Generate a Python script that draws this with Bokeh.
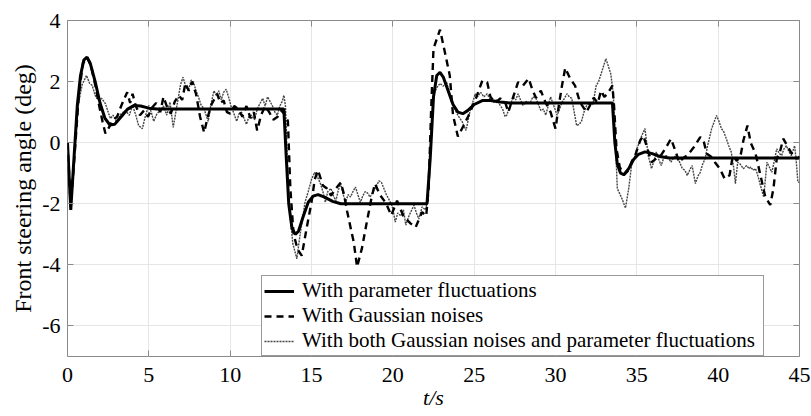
from bokeh.plotting import figure
from bokeh.models import Legend, LegendItem, LinearAxis, FixedTicker, Range1d, CustomJSTickFormatter
from bokeh.embed import file_html
from bokeh.resources import INLINE

x_ticks = [0, 5, 10, 15, 20, 25, 30, 35, 40, 45]
y_ticks = [-6, -4, -2, 0, 2, 4]
y_tick_labels = {-6: "-6", -4: "-4", -2: "-2", 0: "0", 2: "2", 4: "4"}

# With parameter fluctuations (solid)
t_param = [0, 0.2, 0.4, 0.6, 0.8, 1.0, 1.2, 1.4, 1.7, 2.0, 2.3, 2.6, 2.9, 3.3, 3.7, 4.1, 4.5, 5.0, 5.5,
           13.3, 13.45, 13.6, 13.8, 14.0, 14.2, 14.5, 14.8, 15.1, 15.4, 15.8, 16.3, 16.8, 17.5,
           22.1, 22.3, 22.5, 22.7, 22.9, 23.1, 23.4, 23.7, 24.0, 24.3, 24.6, 25.0, 25.5, 26.0, 26.6, 27.2,
           33.5, 33.65, 33.8, 34.0, 34.2, 34.5, 34.8, 35.1, 35.5, 35.9, 36.4, 37.0, 45.0]
y_param = [0, -2.2, -0.5, 1.2, 2.2, 2.7, 2.8, 2.6, 2.0, 1.3, 0.8, 0.58, 0.6, 0.85, 1.1, 1.22, 1.2, 1.13, 1.1,
           1.1, -0.5, -2.0, -2.8, -3.0, -2.9, -2.4, -1.95, -1.75, -1.7, -1.78, -1.92, -2.0, -2.0,
           -2.0, -0.5, 1.5, 2.2, 2.3, 2.15, 1.7, 1.25, 1.0, 0.95, 1.05, 1.25, 1.38, 1.38, 1.33, 1.3,
           1.3, 0.0, -0.7, -1.0, -1.05, -0.85, -0.55, -0.38, -0.3, -0.35, -0.45, -0.5, -0.5]

# With Gaussian noises (dashed)
t_gauss = [0, 0.2, 0.45, 0.7, 0.95, 1.2, 1.45, 1.7, 1.95, 2.15, 2.33, 2.55, 2.8, 3.05, 3.3, 3.5, 3.67, 3.85,
           4.0, 4.2, 4.45, 4.7, 4.95, 5.2, 5.45, 5.7, 5.9, 6.1, 6.35, 6.6, 6.85, 7.05, 7.25, 7.45, 7.66, 7.9,
           8.15, 8.4, 8.6, 8.85, 9.2, 9.4, 9.6, 9.8, 10.0, 10.25, 10.5, 10.75, 11.0, 11.25, 11.45, 11.66, 11.9,
           12.15, 12.4, 12.65, 12.9, 13.15, 13.4, 13.55, 13.7, 13.9, 14.15, 14.4, 14.7, 15.0, 15.2, 15.4, 15.7,
           15.95, 16.2, 16.5, 16.8, 17.0, 17.2, 17.45, 17.6, 17.8, 18.1, 18.4, 18.7, 18.9, 19.2, 19.6, 19.9,
           20.26, 20.65, 21.1, 21.4, 21.8, 22.05, 22.2, 22.35, 22.5, 22.9, 23.2, 23.5, 23.7, 24.0, 24.35, 24.65,
           25.1, 25.5, 25.8, 26.0, 26.3, 26.6, 26.9, 27.1, 27.4, 27.7, 28.0, 28.35, 28.6, 28.8, 29.1, 29.4, 29.7,
           30.0, 30.2, 30.4, 30.6, 30.9, 31.2, 31.5, 31.9, 32.1, 32.35, 32.6, 32.8, 33.0, 33.2, 33.5, 33.6, 33.75,
           33.95, 34.2, 34.5, 34.7, 34.9, 35.2, 35.4, 35.6, 35.9, 36.2, 36.5, 36.8, 37.1, 37.4, 37.6, 37.85, 38.1,
           38.5, 38.9, 39.1, 39.3, 39.55, 39.8, 40.1, 40.4, 40.7, 40.9, 41.15, 41.4, 41.55, 41.8, 42.0, 42.3, 42.6,
           42.9, 43.2, 43.4, 43.6, 43.8, 44.0, 44.3, 44.6, 44.9, 45.0]
y_gauss = [0, -2.1, -0.3, 1.6, 2.6, 2.8, 2.5, 1.9, 1.2, 0.7, 0.3, 0.5, 0.75, 0.85, 1.2, 1.45, 1.65, 1.3,
           1.6, 1.2, 0.9, 1.05, 0.85, 1.15, 1.3, 1.0, 1.5, 1.2, 0.95, 1.35, 1.55, 1.4, 1.95, 1.7, 2.0, 1.6,
           0.85, 0.33, 0.8, 1.25, 1.6, 1.3, 1.38, 1.0, 0.95, 1.2, 1.1, 0.85, 1.2, 0.8, 1.0, 0.4, 0.9,
           1.2, 1.0, 0.75, 0.84, 1.05, 0.9, 0.7, -1.5, -3.0, -3.5, -3.7, -2.8, -1.95, -1.2, -0.9, -1.4,
           -1.5, -1.73, -1.5, -1.3, -1.7, -2.27, -2.9, -3.26, -4.07, -3.46, -2.6, -1.78, -1.34, -1.7, -2.0, -2.38,
           -1.9, -2.4, -2.65, -2.77, -2.27, -2.4, -1.5, 1.0, 3.08, 3.7, 2.96, 2.2, 0.9, 0.2, 0.56, 0.88,
           1.44, 2.03, 1.98, 1.5, 1.3, 1.45, 1.33, 1.0, 1.5, 1.98, 1.87, 2.1, 1.7, 1.47, 1.7, 1.3, 1.0,
           0.46, 1.2, 1.87, 2.45, 2.1, 1.87, 1.33, 1.0, 1.2, 1.47, 1.3, 1.7, 1.5, 1.6, 1.87, 1.2, -0.2,
           -0.8, -1.05, -0.9, -0.6, -0.42, 0.07, 0.23, -0.1, -0.64, -0.52, -0.4, -0.15, 0.13, -0.31, -0.64, -0.5, -0.42,
           -0.15, 0.18, 0.07, -0.36, -0.45, -0.64, -0.85, -1.18, -1.07, -0.42, -0.6, -0.36, 0.07, 0.56, 0.0, -0.36, -1.07,
           -1.78, -2.04, -1.5, -0.52, -0.3, 0.13, -0.15, -0.42, -0.52, -0.45]

# With both Gaussian noises and parameter fluctuations (dotted)
t_both = [0, 0.2, 0.45, 0.68, 0.9, 1.17, 1.35, 1.52, 1.7, 1.9, 2.1, 2.33, 2.5, 2.64, 2.8, 3.0, 3.3, 3.56, 3.8,
          4.0, 4.2, 4.37, 4.6, 4.8, 5.0, 5.15, 5.3, 5.5, 5.7, 5.9, 6.1, 6.3, 6.5, 6.8, 6.95, 7.1, 7.3, 7.45,
          7.6, 7.75, 7.9, 8.05, 8.2, 8.4, 8.65, 8.8, 9.0, 9.15, 9.3, 9.45, 9.6, 9.75, 9.9, 10.05, 10.2, 10.4,
          10.55, 10.7, 10.85, 11.0, 11.15, 11.3, 11.5, 11.66, 11.85, 12.0, 12.15, 12.3, 12.45, 12.6, 12.75, 12.9,
          13.05, 13.2, 13.3, 13.4, 13.5, 13.65, 13.85, 14.1, 14.3, 14.45, 14.6, 14.8, 15.0, 15.2, 15.35, 15.55,
          15.7, 15.85, 16.0, 16.2, 16.35, 16.5, 16.65, 16.8, 16.95, 17.1, 17.25, 17.4, 17.55, 17.7, 17.85, 18.0,
          18.15, 18.3, 18.45, 18.6, 18.8, 19.0, 19.15, 19.3, 19.45, 19.6, 19.75, 19.9, 20.0, 20.15, 20.3, 20.5,
          20.65, 20.8, 20.95, 21.1, 21.3, 21.45, 21.6, 21.8, 22.0, 22.15, 22.3, 22.5, 22.7, 22.9, 23.1, 23.3,
          23.45, 23.6, 23.75, 23.9, 24.05, 24.25, 24.5, 24.75, 24.9, 25.06, 25.2, 25.4, 25.6, 25.8, 26.0, 26.2,
          26.4, 26.6, 26.75, 26.9, 27.0, 27.2, 27.4, 27.55, 27.7, 27.85, 28.0, 28.2, 28.45, 28.6, 28.8, 28.95,
          29.1, 29.25, 29.4, 29.55, 29.7, 29.9, 30.1, 30.25, 30.4, 30.55, 30.7, 30.85, 31.0, 31.15, 31.3, 31.45,
          31.6, 31.75, 31.9, 32.1, 32.3, 32.5, 32.65, 32.8, 32.95, 33.1, 33.25, 33.4, 33.55, 33.65, 33.8, 34.1,
          34.3, 34.5, 34.7, 34.85, 35.0, 35.15, 35.3, 35.5, 35.7, 35.9, 36.05, 36.2, 36.35, 36.5, 36.65, 36.8,
          36.95, 37.1, 37.25, 37.4, 37.6, 37.8, 37.95, 38.1, 38.25, 38.4, 38.6, 38.75, 38.9, 39.05, 39.2, 39.35,
          39.6, 39.9, 40.05, 40.2, 40.35, 40.5, 40.65, 40.8, 40.95, 41.06, 41.2, 41.35, 41.55, 41.75, 41.9, 42.0,
          42.15, 42.3, 42.45, 42.6, 42.8, 43.0, 43.15, 43.3, 43.45, 43.6, 43.75, 43.9, 44.05, 44.2, 44.35, 44.5,
          44.7, 44.8, 44.9, 45.0]
y_both = [0, -2.0, -0.2, 1.28, 1.9, 2.2, 1.95, 1.87, 1.55, 1.38, 1.45, 1.28, 1.0, 0.79, 0.9, 0.7, 0.95, 1.05, 0.9,
          1.22, 0.9, 0.56, 0.46, 0.9, 1.22, 1.0, 0.7, 0.95, 1.05, 1.2, 0.9, 1.33, 0.5, 1.44, 1.9, 2.14, 1.8, 1.73,
          2.05, 1.98, 1.7, 1.5, 1.25, 1.1, 0.7, 1.2, 1.7, 1.55, 1.7, 1.4, 1.65, 1.75, 1.5, 1.2, 1.0, 0.7,
          0.95, 1.0, 0.8, 0.6, 0.85, 0.9, 0.75, 1.1, 1.3, 1.45, 1.2, 1.5, 1.35, 1.2, 1.0, 0.9,
          1.2, 1.35, 1.55, 1.2, -0.5, -2.2, -3.3, -3.8, -3.0, -2.5, -1.95, -1.6, -1.2, -0.97, -1.1, -1.34,
          -1.6, -1.95, -1.6, -1.5, -1.75, -1.9, -1.55, -1.34, -1.7, -1.95, -1.7, -1.78, -1.6, -1.45, -1.7, -1.95,
          -1.75, -1.6, -1.65, -1.78, -1.6, -1.4, -1.25, -1.3, -1.5, -1.7, -1.85, -2.0, -2.16, -2.6, -2.3, -2.4,
          -2.2, -2.7, -2.45, -2.27, -2.05, -2.3, -2.5, -2.1, -2.2, -1.9, -0.3, 1.55, 1.8, 1.94, 1.85, 1.98,
          1.7, 1.45, 1.2, 1.0, 0.85, 0.7, 0.4, 1.05, 1.3, 1.6, 1.5, 1.65, 1.5, 1.6, 1.4, 1.33,
          1.4, 1.22, 1.1, 0.85, 0.9, 1.2, 1.5, 1.4, 1.6, 1.4, 1.22, 1.35, 1.3, 1.5, 1.45, 1.25,
          1.05, 1.1, 0.9, 1.2, 1.5, 1.2, 0.9, 1.1, 1.33, 1.45, 1.6, 1.5, 1.45, 1.0, 0.56, 0.6,
          0.7, 1.0, 1.2, 1.3, 1.25, 1.87, 2.0, 2.25, 2.5, 2.75, 2.5, 2.25, 1.6, 0.5, -1.5, -1.85,
          -2.14, -1.5, -0.64, -0.5, -0.2, 0.0, 0.23, 0.46, -0.42, -0.85, -0.6, -0.3, -0.55, -0.75, -0.5, -0.42,
          -0.5, -0.64, -0.5, -0.42, -0.6, -0.85, -0.9, -1.07, -0.9, -0.75, -1.34, -1.1, -0.97, -0.7, -0.52, -0.1,
          0.46, 0.89, 0.7, 0.46, 0.35, 0.13, -0.1, -0.3, -0.8, -1.34, -0.64, -0.7, -0.85, -0.75, -0.85, -0.8,
          -0.9, -0.85, -1.1, -1.4, -1.78, -0.64, -0.8, -0.97, -0.6, -0.2, -0.35, -0.42, -0.2, -0.1, -0.3, -0.42,
          -0.1, -0.6, -1.29, -1.3]

labels = ["With parameter fluctuations", "With Gaussian noises",
          "With both Gaussian noises and parameter fluctuations"]

FONT = "Liberation Serif"
GRAY = "#8a8a8a"

p = figure(frame_width=732, frame_height=336,
           min_border_left=67, min_border_right=12, min_border_top=20, min_border_bottom=60,
           x_range=Range1d(0, 45), y_range=Range1d(-7, 4),
           output_backend="svg", toolbar_location=None)
p.background_fill_color = "white"
p.border_fill_color = "white"
p.outline_line_color = GRAY
p.outline_line_width = 1

p.xaxis.ticker = FixedTicker(ticks=x_ticks)
p.yaxis.ticker = FixedTicker(ticks=y_ticks)
p.yaxis.major_label_overrides = y_tick_labels
for ax in (p.xaxis[0], p.yaxis[0]):
    ax.axis_line_color = None
    ax.major_tick_in = 6
    ax.major_tick_out = 0
    ax.major_tick_line_color = GRAY
    ax.minor_tick_line_color = None
    ax.major_label_text_font = FONT
    ax.major_label_text_font_size = "22px"
    ax.major_label_text_color = "black"
p.xaxis.major_label_standoff = 11
p.yaxis.major_label_standoff = 7
p.yaxis.axis_label = "Front steering angle (deg)"
p.yaxis.axis_label_text_font = FONT
p.yaxis.axis_label_text_font_size = "24px"
p.yaxis.axis_label_text_font_style = "normal"
p.yaxis.axis_label_text_color = "black"
p.yaxis.axis_label_standoff = 3

p.xaxis.axis_label = "t/s"
p.xaxis.axis_label_text_font = FONT
p.xaxis.axis_label_text_font_size = "22px"
p.xaxis.axis_label_text_font_style = "italic"
p.xaxis.axis_label_text_color = "black"
p.xaxis.axis_label_standoff = 0

blank = CustomJSTickFormatter(code="return ''")
top = LinearAxis(ticker=FixedTicker(ticks=x_ticks), formatter=blank,
                 major_label_standoff=0, major_tick_in=6, major_tick_out=0,
                 major_tick_line_color=GRAY, minor_tick_line_color=None, axis_line_color=None)
right = LinearAxis(ticker=FixedTicker(ticks=y_ticks), formatter=blank,
                   major_label_standoff=0, major_tick_in=6, major_tick_out=0,
                   major_tick_line_color=GRAY, minor_tick_line_color=None, axis_line_color=None)
p.add_layout(top, "above")
p.add_layout(right, "right")

p.grid.grid_line_color = "#e6e6e6"
p.grid.grid_line_width = 1

r3 = p.line(t_both, y_both, line_color="#444444", line_width=1.4, line_dash="2 1")
r2 = p.line(t_gauss, y_gauss, line_color="black", line_width=2.4, line_dash="7 5")
r1 = p.line(t_param, y_param, line_color="black", line_width=3)

legend = Legend(items=[LegendItem(label=labels[0], renderers=[r1]),
                       LegendItem(label=labels[1], renderers=[r2]),
                       LegendItem(label=labels[2], renderers=[r3])],
                location=(194, 0), margin=0, padding=2, spacing=0,
                label_text_font=FONT, label_text_font_size="21px", label_text_color="black",
                label_height=24, glyph_height=24, glyph_width=30, label_standoff=8,
                label_width=459,
                border_line_color="#333333", border_line_width=1,
                background_fill_color="white", background_fill_alpha=1)
p.add_layout(legend, "center")

open("out.html", "w").write(file_html(p, INLINE))
